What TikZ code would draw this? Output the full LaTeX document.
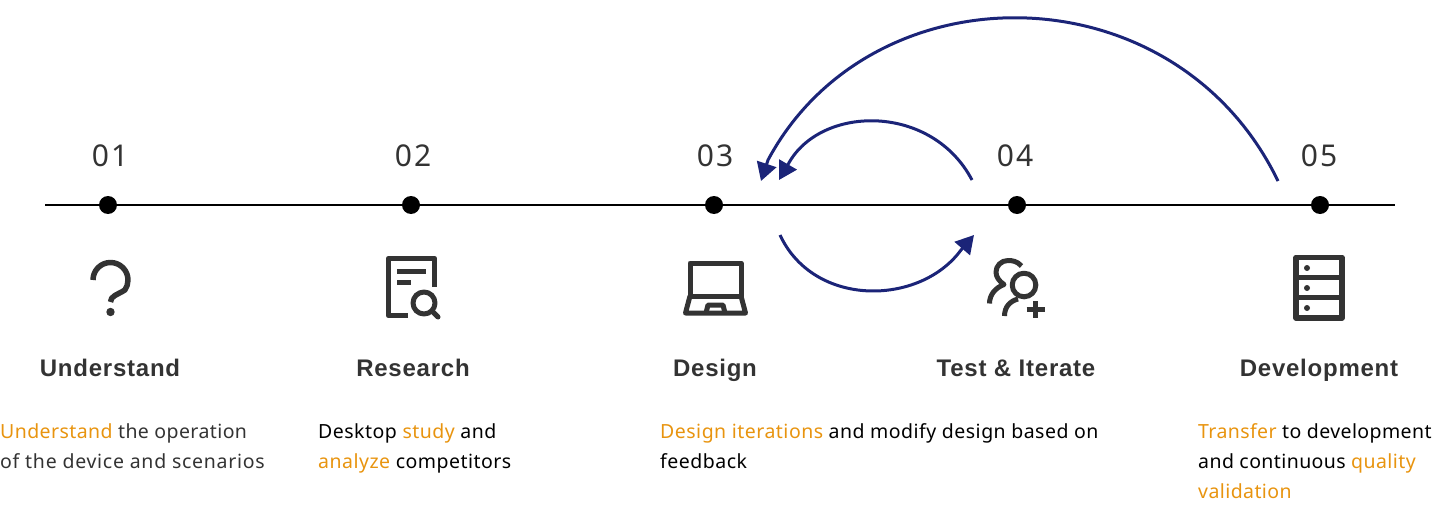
\documentclass[tikz,border=0pt]{standalone}
\usepackage{fontspec}
\setmainfont{Noto Sans}
\newfontfamily\bodyf[LetterSpace=2.5]{Noto Sans}
\newfontfamily\bodytight[LetterSpace=2.1]{Noto Sans}
\newfontfamily\bodywide[LetterSpace=3.7]{Noto Sans}
\newfontfamily\numf[LetterSpace=7]{Noto Sans}
\newfontfamily\titlef[LetterSpace=3.2]{Liberation Sans}
\usetikzlibrary{arrows.meta}
\definecolor{ink}{HTML}{333333}
\definecolor{navy}{HTML}{1B2478}
\definecolor{amber}{HTML}{E8940F}
\newcommand{\hl}[1]{\textcolor{amber}{#1}}
\tikzset{
  dotmark/.style={circle,fill=black,draw=none,minimum size=18pt,inner sep=0},
  numlabel/.style={anchor=base,inner sep=0,text=ink,font=\numf\fontsize{30}{32}\selectfont},
  titlelabel/.style={anchor=base,inner sep=0,text=ink,font=\titlef\bfseries\fontsize{24}{26}\selectfont},
  bodytext/.style={anchor=base west,inner sep=0,text=black,font=\bodyf\fontsize{19.5}{30}\selectfont},
  greytext/.style={bodytext,text=ink},
  iconline/.style={draw=ink,line width=5.5pt,line join=round,fill=none},
  iconthin/.style={iconline,line width=5pt},
  flow/.style={draw=navy,line width=3pt,-{Triangle[length=18pt,width=20pt,fill=navy]}},
  axis/.style={draw=black,line width=1.1pt}
}
\begin{document}
\begin{tikzpicture}[x=1pt,y=-1pt]
\useasboundingbox (0,0) rectangle (1441,524);
% axis
\coordinate (axl) at (45,205);
\coordinate (axr) at (1395,205);
\draw[axis] (axl) -- (axr);
\node[dotmark] (d1) at (108,205) {};
\node[dotmark] (d2) at (411,205) {};
\node[dotmark] (d3) at (714,205) {};
\node[dotmark] (d4) at (1017,205) {};
\node[dotmark] (d5) at (1320,205) {};
% numbers
\node[numlabel] (n1) at (110,167) {01};
\node[numlabel] (n2) at (413,167) {02};
\node[numlabel] (n3) at (715,167) {03};
\node[numlabel] (n4) at (1015,167) {04};
\node[numlabel] (n5) at (1319,167) {05};
% titles
\node[titlelabel] (t1) at (110,376) {Understand};
\node[titlelabel] (t2) at (413,376) {Research};
\node[titlelabel] (t3) at (715,376) {Design};
\node[titlelabel] (t4) at (1016,376) {Test \& Iterate};
\node[titlelabel] (t5) at (1319,376) {Development};
% body
\node[greytext] (b1a) at (0,438) {\bodytight\hl{Understand} the operation};
\node[greytext] (b1b) at (0,468) {\bodywide of the device and scenarios};
\node[bodytext] (b2a) at (318,438) {Desktop \hl{study} and};
\node[bodytext] (b2b) at (318,468) {\hl{analyze} competitors};
\node[bodytext] (b3a) at (660,438) {\hl{Design iterations} and modify design based on};
\node[bodytext] (b3b) at (660,468) {feedback};
\node[bodytext] (b5a) at (1198,438) {\bodytight\hl{Transfer} to development};
\node[bodytext] (b5b) at (1198,468) {\bodytight and continuous \hl{quality}};
\node[bodytext] (b5c) at (1198,498) {\bodytight\hl{validation}};
% arcs
\coordinate (a5) at (1278,181);
\coordinate (a3) at (761,181);
\coordinate (a3m) at (768,160);
\coordinate (a4) at (972,180);
\coordinate (a3b) at (779,180);
\coordinate (a3bm) at (790,161);
\coordinate (a3c) at (780,235);
\coordinate (a4cm) at (961,250);
\coordinate (a4c) at (974,235);
\draw[flow] (a5) .. controls (1175,-32) and (872,-34) .. (a3m) -- (a3);
\draw[flow] (a4) .. controls (932,104) and (824,105) .. (a3bm) -- (a3b);
\draw[flow] (a3c) .. controls (814,308) and (920,306) .. (a4cm) -- (a4c);
% icon 1: question mark
\draw[iconline,line cap=butt] (93,280) arc[start angle=180,end angle=395,radius=17.5] .. controls (117,295) and (110.5,296) .. (110.5,302);
\fill[ink] (110.5,312) circle (4.2);
% icon 2: report
\draw[iconline,line cap=butt] (434.5,287) -- (434.5,258.5) -- (388.5,258.5) -- (388.5,315.5) -- (408,315.5);
\draw[iconthin] (397,271) -- (426,271);
\draw[iconthin] (397,282) -- (411,282);
\draw[iconthin] (424,303) circle (11);
\draw[iconthin,line cap=round] (432,311) -- (438,317);
% icon 3: laptop
\draw[iconthin] (690,263) rectangle (741,296);
\draw[iconthin] (690,296) -- (685.5,313) -- (745.5,313) -- (741,296);
\draw[iconthin] (706,313) -- (708,305) -- (723,305) -- (725,313);
% icon 4: user plus
\draw[iconthin] (1021.5,266) .. controls (1017,261) and (1012,260.5) .. (1008,260.5) .. controls (1001,260.5) and (996,266) .. (996,272) .. controls (996,277) and (999,281) .. (1004,284.5) .. controls (995,288) and (989.5,295) .. (989.5,303.5);
\draw[iconthin] (1024,285) circle (11.8);
\draw[iconthin] (1018,299) .. controls (1010,301) and (1004.5,307) .. (1004.5,316);
\draw[iconline] (1026.5,309.5) -- (1044.5,309.5);
\draw[iconline] (1035.5,301) -- (1035.5,318);
% icon 5: server
\draw[iconline] (1296,257.5) rectangle (1342,318);
\draw[iconline] (1296,277.7) -- (1342,277.7);
\draw[iconline] (1296,297.7) -- (1342,297.7);
\fill[ink] (1307,268) circle (3);
\fill[ink] (1307,288) circle (3);
\fill[ink] (1307,308) circle (3);
\end{tikzpicture}
\end{document}
